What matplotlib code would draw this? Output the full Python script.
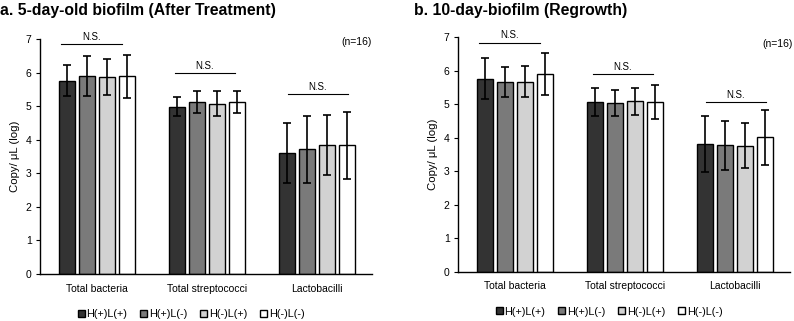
import numpy as np
import matplotlib
matplotlib.use("Agg")
import matplotlib.pyplot as plt

plt.rcParams['font.family'] = ['Liberation Sans', 'DejaVu Sans']

# data
categories = ['Total bacteria', 'Total streptococci', 'Lactobacilli']
groups = ['H(+)L(+)', 'H(+)L(-)', 'H(-)L(+)', 'H(-)L(-)']
colors = ['#333333', '#7a7a7a', '#d2d2d2', '#ffffff']

# panel a - 5-day-old biofilm (rows = groups, cols = categories)
a_mean = [[5.76, 4.99, 3.61],
          [5.90, 5.13, 3.71],
          [5.87, 5.07, 3.84],
          [5.89, 5.12, 3.83]]
a_err = [[0.47, 0.29, 0.89],
         [0.60, 0.33, 1.00],
         [0.55, 0.37, 0.90],
         [0.64, 0.32, 1.00]]
a_ns = [6.84, 5.99, 5.36]

# panel b - 10-day-biofilm
b_mean = [[5.77, 5.07, 3.81],
          [5.67, 5.04, 3.77],
          [5.68, 5.09, 3.76],
          [5.90, 5.07, 4.01]]
b_err = [[0.61, 0.41, 0.83],
         [0.45, 0.40, 0.74],
         [0.46, 0.41, 0.67],
         [0.63, 0.50, 0.81]]
b_ns = [6.84, 5.90, 5.07]

titles = ['a. 5-day-old biofilm (After Treatment)', 'b. 10-day-biofilm (Regrowth)']


def draw_panel(ax, mean, err, ns):
    x = np.arange(len(categories))
    pitch = 0.182
    w = 0.145
    for i in range(len(groups)):
        ax.bar(x + (i - 1.5) * pitch, mean[i], w, yerr=err[i], color=colors[i],
               edgecolor='black', linewidth=1.0, label=groups[i],
               error_kw=dict(ecolor='black', elinewidth=1.2, capsize=3.2, capthick=1.2))
    centers = [-0.05, 0.98, 2.01]
    for c, y in zip(centers, ns):
        ax.plot([c - 0.275, c + 0.275], [y, y], color='black', lw=0.8)
        ax.text(c, y + 0.07, 'N.S.', ha='center', va='bottom', fontsize=7)
    ax.set_xlim(-0.52, 2.5)
    ax.set_ylim(0, 7)
    ax.set_yticks(range(8))
    ax.set_xticks(x)
    ax.set_xticklabels(categories, fontsize=7.5)
    ax.tick_params(axis='x', length=0, pad=7)
    ax.tick_params(axis='y', labelsize=7.5, length=3, width=0.8, pad=3)
    ax.spines['top'].set_visible(False)
    ax.spines['right'].set_visible(False)
    ax.spines['left'].set_linewidth(1.0)
    ax.spines['bottom'].set_linewidth(1.0)
    ax.set_ylabel('Copy/ μL (log)', fontsize=8.2, labelpad=4)
    ax.legend(loc='center', bbox_to_anchor=(0.455, -0.17), ncol=4, frameon=False,
              fontsize=7.8, handlelength=0.65, handleheight=0.65, handletextpad=0.15,
              columnspacing=1.2, borderaxespad=0)


fig = plt.figure(figsize=(7.94, 3.21), dpi=100)
ax1 = fig.add_axes([0.0504, 0.1464, 0.418, 0.732])
ax2 = fig.add_axes([0.5768, 0.1536, 0.418, 0.730])

draw_panel(ax1, a_mean, a_err, a_ns)
draw_panel(ax2, b_mean, b_err, b_ns)

ax1.text(2.5, 6.9, '(n=16)', ha='right', va='center', fontsize=7.5, clip_on=False)
ax2.text(2.53, 6.8, '(n=16)', ha='right', va='center', fontsize=7.5, clip_on=False)

fig.text(0.0, 0.968, titles[0], fontsize=11.3, fontweight='bold', ha='left', va='center')
fig.text(0.522, 0.968, titles[1], fontsize=11.3, fontweight='bold', ha='left', va='center')

fig.savefig('out.png', dpi=100)
